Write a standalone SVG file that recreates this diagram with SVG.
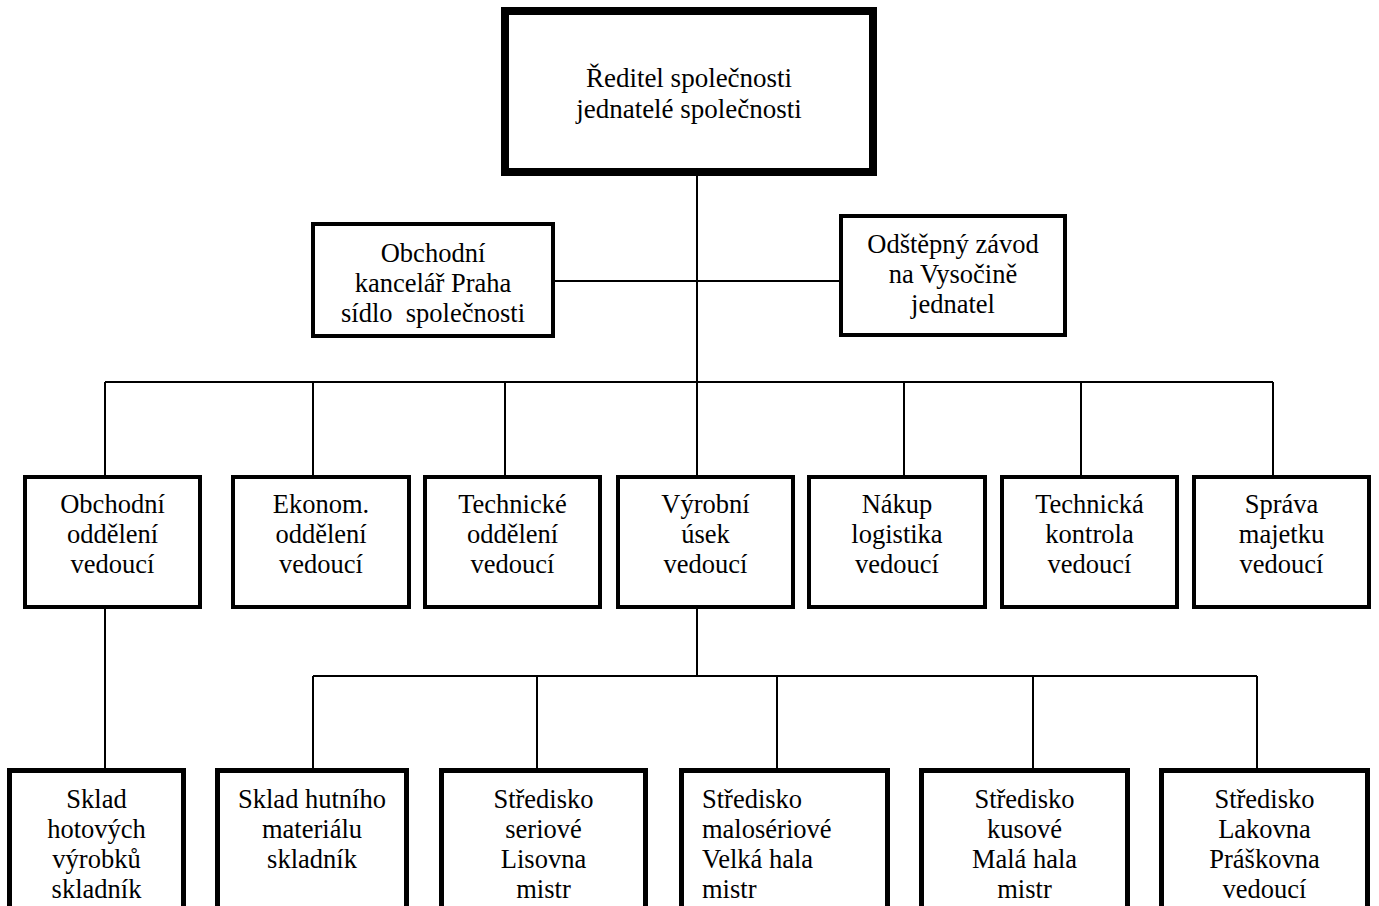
<svg xmlns="http://www.w3.org/2000/svg" width="1379" height="906" viewBox="0 0 1379 906" font-family="'Liberation Serif', 'Times New Roman', serif">
<style>
.b{fill:#fff;stroke:#000}
.t{font-family:"Liberation Serif","Times New Roman",serif;font-size:26.5px;fill:#000;text-anchor:middle}
.l{text-anchor:start}
.c{fill:none;stroke:#000;stroke-width:2}
</style>
<rect width="1379" height="906" fill="#fff"/>
<g id="connectors">
<path class="c" d="M697 176V382M555 281H839M105 382H1273M105 382V475M313 382V475M505 382V475M697 382V475M904 382V475M1081 382V475M1273 382V475"/>
<path class="c" d="M105 609V769M697 609V676M313 676H1257M313 676V769M537 676V769M777 676V769M1033 676V769M1257 676V769"/>
</g>
<g id="n-reditel"><rect class="b" x="505" y="11" width="368" height="161" stroke-width="8"/>
<text class="t" x="689" y="87" style="font-size:27px">Ředitel společnosti</text><text class="t" x="689" y="118" style="font-size:27px">jednatelé společnosti</text></g>
<g id="n-praha"><rect class="b" x="313" y="224" width="240" height="112" stroke-width="4"/>
<text class="t" x="433" y="262">Obchodní</text><text class="t" x="433" y="292">kancelář Praha</text><text class="t" x="433" y="322" xml:space="preserve">sídlo  společnosti</text></g>
<g id="n-vysocina"><rect class="b" x="841" y="216" width="224" height="119" stroke-width="4"/>
<text class="t" x="953" y="253">Odštěpný závod</text><text class="t" x="953" y="283">na Vysočině</text><text class="t" x="953" y="313">jednatel</text></g>
<g id="n-obchodni"><rect class="b" x="25" y="477" width="175" height="130" stroke-width="4"/>
<text class="t" x="112.5" y="513">Obchodní</text><text class="t" x="112.5" y="543">oddělení</text><text class="t" x="112.5" y="573">vedoucí</text></g>
<g id="n-ekonom"><rect class="b" x="233" y="477" width="176" height="130" stroke-width="4"/>
<text class="t" x="321" y="513">Ekonom.</text><text class="t" x="321" y="543">oddělení</text><text class="t" x="321" y="573">vedoucí</text></g>
<g id="n-technicke"><rect class="b" x="425" y="477" width="175" height="130" stroke-width="4"/>
<text class="t" x="512.5" y="513">Technické</text><text class="t" x="512.5" y="543">oddělení</text><text class="t" x="512.5" y="573">vedoucí</text></g>
<g id="n-vyrobni"><rect class="b" x="618" y="477" width="175" height="130" stroke-width="4"/>
<text class="t" x="705.5" y="513">Výrobní</text><text class="t" x="705.5" y="543">úsek</text><text class="t" x="705.5" y="573">vedoucí</text></g>
<g id="n-nakup"><rect class="b" x="809" y="477" width="176" height="130" stroke-width="4"/>
<text class="t" x="897" y="513">Nákup</text><text class="t" x="897" y="543">logistika</text><text class="t" x="897" y="573">vedoucí</text></g>
<g id="n-tk"><rect class="b" x="1002" y="477" width="175" height="130" stroke-width="4"/>
<text class="t" x="1089.5" y="513">Technická</text><text class="t" x="1089.5" y="543">kontrola</text><text class="t" x="1089.5" y="573">vedoucí</text></g>
<g id="n-sprava"><rect class="b" x="1194" y="477" width="175" height="130" stroke-width="4"/>
<text class="t" x="1281.5" y="513">Správa</text><text class="t" x="1281.5" y="543">majetku</text><text class="t" x="1281.5" y="573">vedoucí</text></g>
<g id="n-sklad-hotovych"><rect class="b" x="9.5" y="770.5" width="174" height="200" stroke-width="5"/>
<text class="t" x="96.5" y="808">Sklad</text><text class="t" x="96.5" y="838">hotových</text><text class="t" x="96.5" y="868">výrobků</text><text class="t" x="96.5" y="898">skladník</text></g>
<g id="n-sklad-hutniho"><rect class="b" x="217.5" y="770.5" width="189" height="200" stroke-width="5"/>
<text class="t" x="312" y="808">Sklad hutního</text><text class="t" x="312" y="838">materiálu</text><text class="t" x="312" y="868">skladník</text></g>
<g id="n-seriove"><rect class="b" x="441.5" y="770.5" width="204" height="200" stroke-width="5"/>
<text class="t" x="543.5" y="808">Středisko</text><text class="t" x="543.5" y="838">seriové</text><text class="t" x="543.5" y="868">Lisovna</text><text class="t" x="543.5" y="898">mistr</text></g>
<g id="n-maloseriove"><rect class="b" x="681.5" y="770.5" width="206" height="200" stroke-width="5"/>
<text class="t l" x="702" y="808">Středisko</text><text class="t l" x="702" y="838">malosériové</text><text class="t l" x="702" y="868">Velká hala</text><text class="t l" x="702" y="898">mistr</text></g>
<g id="n-kusove"><rect class="b" x="921.5" y="770.5" width="206" height="200" stroke-width="5"/>
<text class="t" x="1024.5" y="808">Středisko</text><text class="t" x="1024.5" y="838">kusové</text><text class="t" x="1024.5" y="868">Malá hala</text><text class="t" x="1024.5" y="898">mistr</text></g>
<g id="n-lakovna"><rect class="b" x="1161.5" y="770.5" width="206" height="200" stroke-width="5"/>
<text class="t" x="1264.5" y="808">Středisko</text><text class="t" x="1264.5" y="838">Lakovna</text><text class="t" x="1264.5" y="868">Práškovna</text><text class="t" x="1264.5" y="898">vedoucí</text></g>
</svg>
